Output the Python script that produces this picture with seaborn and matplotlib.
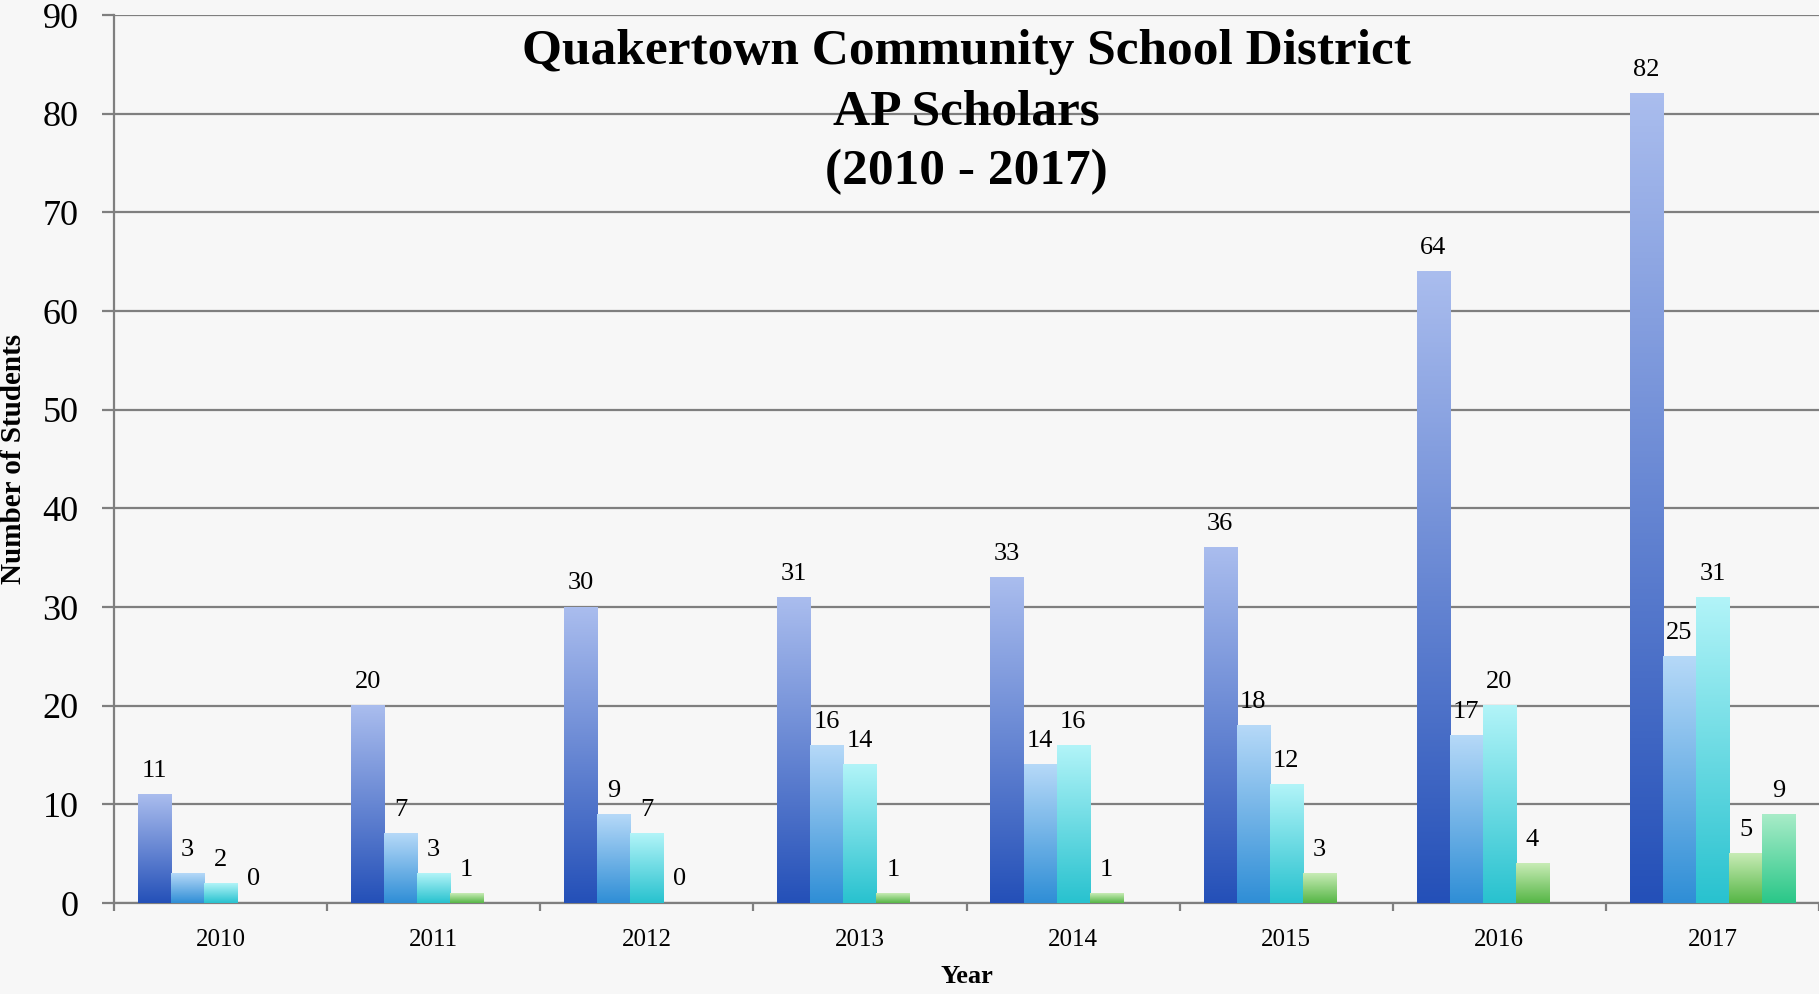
import numpy as np
import pandas as pd
import matplotlib
matplotlib.use("Agg")
import matplotlib.pyplot as plt
import matplotlib.colors as mcolors
import seaborn as sns

# data
years = ["2010", "2011", "2012", "2013", "2014", "2015", "2016", "2017"]
series_names = ["s1", "s2", "s3", "s4", "s5"]
s1 = [11, 20, 30, 31, 33, 36, 64, 82]
s2 = [3, 7, 9, 16, 14, 18, 17, 25]
s3 = [2, 3, 7, 14, 16, 12, 20, 31]
s4 = [0, 1, 0, 1, 1, 3, 4, 5]
s5 = [np.nan, np.nan, np.nan, np.nan, np.nan, np.nan, np.nan, 9]

# gradient colours per series (top, bottom)
top_colors = ["#aabdee", "#b6d9f8", "#b2f4f8", "#c8ecb6", "#a8ecc8"]
bottom_colors = ["#2450b8", "#2f8ed6", "#28c2cf", "#56b646", "#2ac788"]

rows = []
for name, vals in zip(series_names, [s1, s2, s3, s4, s5]):
    for yr, v in zip(years, vals):
        rows.append({"year": yr, "series": name, "value": v})
df = pd.DataFrame(rows).dropna()

sns.set_style("white")
plt.rcParams['font.family'] = ['Liberation Serif', 'DejaVu Serif']
plt.rcParams['text.color'] = 'black'
plt.rcParams['axes.labelcolor'] = 'black'
plt.rcParams['xtick.labelcolor'] = 'black'
plt.rcParams['ytick.labelcolor'] = 'black'

bg = "#f7f7f7"
grid_c = "#7f7f7f"

fig = plt.figure(figsize=(18.19, 9.94), dpi=100, facecolor=bg)
ax = fig.add_axes([114 / 1819, 91 / 994, 1705 / 1819, 888 / 994])
ax.set_facecolor(bg)

sns.barplot(data=df, x="year", y="value", hue="series", order=years,
            hue_order=series_names, palette=bottom_colors, width=0.775,
            gap=0, legend=False, ax=ax, zorder=3, linewidth=0)

ax.set_xlim(-0.5, len(years) - 0.5)
ax.set_ylim(0, 90)

# gradient fill on every bar + value labels
for i, cont in enumerate(ax.containers):
    cmap = mcolors.LinearSegmentedColormap.from_list(
        "g%d" % i, [bottom_colors[i], top_colors[i]])
    grad = np.linspace(0, 1, 256).reshape(-1, 1)
    for bar in cont:
        x, w, h = bar.get_x(), bar.get_width(), bar.get_height()
        if np.isnan(h):
            continue
        bar.set_facecolor("none")
        if h > 0:
            ax.imshow(grad, cmap=cmap, extent=[x, x + w, 0, h], origin="lower",
                      aspect="auto", zorder=3, interpolation="bilinear")
        ax.annotate(f"{int(h)}", (x + w / 2, h), xytext=(0, 17),
                    textcoords="offset points", ha="center", va="center",
                    fontsize=19, color="black", zorder=5)

ax.set_xlim(-0.5, len(years) - 0.5)
ax.set_ylim(0, 90)
ax.set_aspect("auto")

# y axis
ax.set_yticks(np.arange(0, 91, 10))
ax.set_yticklabels([str(v) for v in range(0, 91, 10)], fontsize=26)
ax.yaxis.grid(True, color=grid_c, linewidth=1.6, zorder=1)
ax.set_axisbelow(True)
ax.tick_params(axis="y", which="major", length=8.6, width=1.6, color=grid_c,
               pad=17, direction="out", left=True)

# x axis: tick marks at group boundaries, labels at centres
ax.set_xticks(np.arange(-0.5, len(years), 1))
ax.set_xticklabels([])
ax.set_xticks(np.arange(len(years)), minor=True)
ax.set_xticklabels(years, minor=True, fontsize=18)
ax.tick_params(axis="x", which="major", length=6, width=1.6, color=grid_c,
               direction="out", bottom=True)
ax.tick_params(axis="x", which="minor", length=0, pad=19)

for side in ["top", "right"]:
    ax.spines[side].set_visible(False)
for side in ["left", "bottom"]:
    ax.spines[side].set_color(grid_c)
    ax.spines[side].set_linewidth(1.6)

ax.set_xlabel("Year", fontsize=19, fontweight="bold", va="center")
ax.xaxis.set_label_coords(0.5, -0.083)
ax.set_ylabel("Number of Students", fontsize=21, fontweight="bold", va="center")
ax.yaxis.set_label_coords(-0.0587, 0.5)

# title inside the plot area
title_lines = ["Quakertown Community School District", "AP Scholars",
               "(2010 - 2017)"]
for line, ty in zip(title_lines, [0.958, 0.890, 0.823]):
    ax.text(0.5, ty, line, transform=ax.transAxes, ha="center", va="center",
            fontsize=37, fontweight="bold", zorder=6)

fig.savefig("out.png", dpi=100, facecolor=bg)
